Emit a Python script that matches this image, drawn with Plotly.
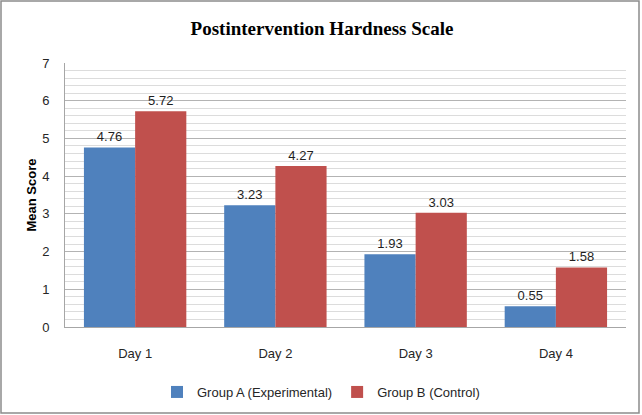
import plotly.graph_objects as go

categories = ["Day 1", "Day 2", "Day 3", "Day 4"]
group_a = [4.76, 3.23, 1.93, 0.55]
group_b = [5.72, 4.27, 3.03, 1.58]
series_names = ["Group A (Experimental)", "Group B (Control)"]
y_ticks = [0, 1, 2, 3, 4, 5, 6, 7]

blue = "#4F81BD"
red = "#C0504D"

fig = go.Figure()
for name, vals, col in [(series_names[0], group_a, blue), (series_names[1], group_b, red)]:
    fig.add_trace(go.Bar(
        x=categories, y=vals, name=name,
        marker=dict(color=col, line=dict(width=0)),
        text=[f"{v:.2f}" for v in vals], textposition="outside",
        textfont=dict(family="Liberation Sans, Arial", size=13, color="#1F1F1F"),
        cliponaxis=False,
    ))

L, R, T, B = 65, 16, 63, 88
W, H = 642, 415
pw, ph = W - L - R, H - T - B

def px_x(x):
    return (x - L) / pw

def px_y(y):
    return (H - B - y) / ph

fig.update_layout(
    width=W, height=H,
    margin=dict(l=L, r=R, t=T, b=B, autoexpand=False),
    paper_bgcolor="white", plot_bgcolor="white",
    barmode="group", bargap=0.27, bargroupgap=0,
    title=dict(text="<b>Postintervention Hardness Scale</b>", x=px_x(322), xanchor="center",
               xref="paper", y=1 - 28 / H, yanchor="middle",
               font=dict(family="Liberation Serif, Times New Roman", size=19, color="black")),
    font=dict(family="Liberation Sans, Arial", size=13, color="#262626"),
    showlegend=True,
    legend=dict(orientation="h", x=px_x(321), xanchor="center", y=px_y(392), yanchor="middle",
                font=dict(size=13, color="#262626"), itemwidth=30, traceorder="normal"),
    xaxis=dict(showline=True, linecolor="#A6A6A6", linewidth=1, ticks="", ticklabelstandoff=14,
               tickfont=dict(size=13, color="#262626"), fixedrange=True),
    yaxis=dict(range=[0, 7], tickvals=y_ticks, showline=True, linecolor="#A6A6A6", linewidth=1,
               showgrid=True, gridcolor="#B3B3B3", gridwidth=1, zeroline=False, fixedrange=True,
               minor=dict(dtick=0.2, showgrid=True, gridcolor="#DCDCDC", gridwidth=1),
               ticks="", ticklabelstandoff=12, tickfont=dict(size=13, color="#262626"),
               title=dict(text="<b>Mean Score</b>", standoff=2,
                          font=dict(family="Liberation Sans, Arial", size=13, color="black"))),
    shapes=[dict(type="rect", xref="paper", yref="paper",
                 x0=px_x(1), x1=px_x(639), y0=px_y(1), y1=px_y(413),
                 line=dict(color="#8C8C8C", width=1.5), fillcolor="rgba(0,0,0,0)", layer="above")],
)

fig.write_html("out.html", config={"displayModeBar": False},
               post_script="document.body.style.margin='0';document.body.style.overflow='hidden';")
